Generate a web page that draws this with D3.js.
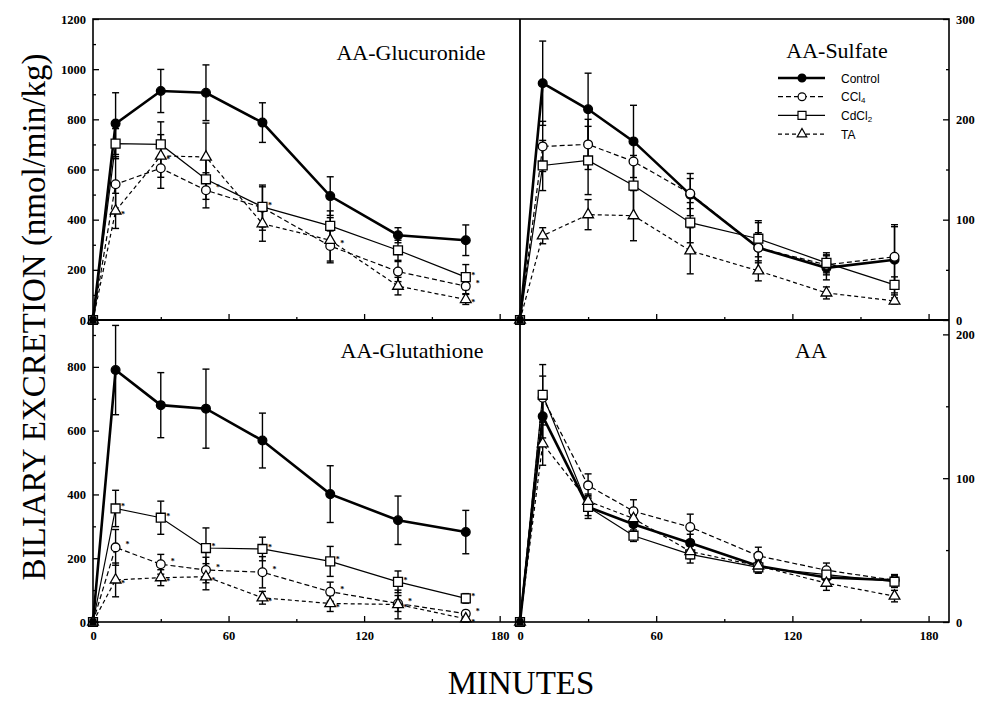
<!DOCTYPE html>
<html>
<head>
<meta charset="utf-8">
<script src="https://cdn.jsdelivr.net/npm/d3@7"></script>
<style>
  body { margin: 0; background: #fff; }
  svg { display: block; }
</style>
</head>
<body>
<div id="chart"></div>
<script>
//////////////////////////// data /////////////////////////////////////////

const times = [0, 10, 30, 50, 75, 105, 135, 165];
const seriesNames = ["Control", "CCl4", "CdCl2", "TA"];

// AA-Glucuronide (nmol/min/kg)
const glucControl = [0, 783, 913, 906, 787, 494, 338, 318];
const glucControlErr = [0, 123, 86, 111, 79, 77, 30, 61];
const glucCCl4 = [0, 541, 605, 517, 448, 295, 193, 135];
const glucCCl4Err = [0, 110, 80, 70, 90, 60, 40, 30];
const glucCdCl2 = [0, 703, 700, 561, 451, 375, 278, 171];
const glucCdCl2Err = [0, 60, 90, 80, 80, 60, 40, 50];
const glucTA = [0, 435, 654, 650, 384, 318, 135, 82];
const glucTAErr = [0, 70, 85, 135, 70, 90, 35, 20];
const glucCCl4Sig = [0, 0, 0, 1, 0, 1, 0, 1];
const glucCdCl2Sig = [0, 0, 0, 0, 1, 0, 0, 1];
const glucTASig = [0, 1, 1, 0, 0, 0, 0, 1];

// AA-Sulfate
const sulfControl = [0, 236, 210, 178, 125, 72, 52, 60];
const sulfControlErr = [0, 42, 36, 36, 21, 25, 12, 35];
const sulfCCl4 = [0, 173, 175, 158, 126, 72, 55, 63];
const sulfCCl4Err = [0, 25, 25, 22, 15, 15, 10, 30];
const sulfCdCl2 = [0, 154, 159, 134, 97, 81, 57, 35];
const sulfCdCl2Err = [0, 25, 34, 30, 20, 18, 10, 8];
const sulfTA = [0, 84, 105, 104, 69, 49, 27, 19];
const sulfTAErr = [0, 8, 15, 25, 23, 10, 6, 3];

// AA-Glutathione
const gshControl = [0, 790, 680, 669, 569, 401, 319, 282];
const gshControlErr = [0, 140, 102, 124, 86, 89, 76, 68];
const gshCCl4 = [0, 234, 181, 163, 156, 95, 58, 26];
const gshCCl4Err = [0, 56, 31, 40, 49, 30, 25, 10];
const gshCdCl2 = [0, 356, 327, 232, 229, 190, 126, 74];
const gshCdCl2Err = [0, 57, 52, 63, 37, 47, 34, 15];
const gshTA = [0, 132, 139, 142, 76, 58, 55, 10];
const gshTAErr = [0, 53, 25, 41, 20, 25, 45, 10];
const gshSig = [0, 1, 1, 1, 1, 1, 1, 1];

// AA
const aaControl = [0, 143, 80, 68, 55, 39, 31, 29];
const aaControlErr = [0, 15, 8, 6, 6, 5, 4, 3];
const aaCCl4 = [0, 156, 95, 77, 66, 46, 36, 29];
const aaCCl4Err = [0, 15, 8, 8, 9, 6, 5, 4];
const aaCdCl2 = [0, 158, 80, 60, 47, 38, 33, 28];
const aaCdCl2Err = [0, 21, 6, 4, 6, 4, 4, 4];
const aaTA = [0, 124, 84, 72, 49, 39, 27, 18];
const aaTAErr = [0, 15, 5, 5, 5, 4, 5, 4];

const none = [0, 0, 0, 0, 0, 0, 0, 0];

const xTicks = [0, 60, 120, 180];
const xMinorTicks = [30, 90, 150];

//////////////////////////// set up svg ///////////////////////////////////

const width = 983;
const height = 702;
const serif = "'Liberation Serif', 'Times New Roman', serif";

const svg = d3.select("#chart")
  .append("svg")
  .attr("width", width)
  .attr("height", height);

// line / marker style per series (starDx/starDy: where the asterisk sits)
const styles = {
  Control: { symbol: d3.symbolCircle, size: 60, fill: "#000", sw: 2.6, dash: null, starDx: 5.5, starDy: 2 },
  CCl4: { symbol: d3.symbolCircle, size: 60, fill: "#fff", sw: 1.2, dash: "5,3", starDx: 10, starDy: 0 },
  CdCl2: { symbol: d3.symbolSquare, size: 80, fill: "#fff", sw: 1.2, dash: null, starDx: 5.5, starDy: 1 },
  TA: { symbol: d3.symbolTriangle, size: 50, fill: "#fff", sw: 1.2, dash: "4,3", starDx: 5.5, starDy: 6 }
};

const panels = [
  {
    title: "AA-Glucuronide", tx: 411, ty: 60,
    xr: [93, 520], yr: [19, 320], yMax: 1200, side: "left",
    yTicks: [0, 200, 400, 600, 800, 1000, 1200],
    yMinor: [100, 300, 500, 700, 900, 1100],
    xLabels: false,
    values: [glucControl, glucCCl4, glucCdCl2, glucTA],
    errs: [glucControlErr, glucCCl4Err, glucCdCl2Err, glucTAErr],
    sig: [none, glucCCl4Sig, glucCdCl2Sig, glucTASig]
  },
  {
    title: "AA-Sulfate", tx: 837, ty: 58,
    xr: [520, 949], yr: [19, 320], yMax: 300, side: "right",
    yTicks: [0, 100, 200, 300],
    yMinor: [50, 150, 250],
    xLabels: false,
    values: [sulfControl, sulfCCl4, sulfCdCl2, sulfTA],
    errs: [sulfControlErr, sulfCCl4Err, sulfCdCl2Err, sulfTAErr],
    sig: [none, none, none, none],
    legend: true
  },
  {
    title: "AA-Glutathione", tx: 412, ty: 358,
    xr: [93, 520], yr: [320, 622], yMax: 947, side: "left",
    yTicks: [0, 200, 400, 600, 800],
    yMinor: [100, 300, 500, 700, 900],
    xLabels: true,
    values: [gshControl, gshCCl4, gshCdCl2, gshTA],
    errs: [gshControlErr, gshCCl4Err, gshCdCl2Err, gshTAErr],
    sig: [none, gshSig, gshSig, gshSig]
  },
  {
    title: "AA", tx: 811, ty: 358,
    xr: [520, 949], yr: [320, 622], yMax: 210, side: "right",
    yTicks: [0, 100, 200],
    yMinor: [50, 150],
    xLabels: true,
    values: [aaControl, aaCCl4, aaCdCl2, aaTA],
    errs: [aaControlErr, aaCCl4Err, aaCdCl2Err, aaTAErr],
    sig: [none, none, none, none]
  }
];

//////////////////////////// panels ///////////////////////////////////////

panels.forEach((p) => {
  const x = d3.scaleLinear().domain([0, 189]).range(p.xr);
  const y = d3.scaleLinear().domain([0, p.yMax]).range([p.yr[1], p.yr[0]]);
  const g = svg.append("g");

  // y axis (ticks point inward)
  const yAxis = p.side === "left" ? d3.axisLeft : d3.axisRight;
  const yPos = p.side === "left" ? p.xr[0] : p.xr[1];
  g.append("g")
    .attr("transform", "translate(" + yPos + ",0)")
    .call(yAxis(y).tickValues(p.yTicks).tickSize(-6).tickPadding(7).tickFormat(d3.format("d")))
    .call((a) => a.select(".domain").remove());
  g.append("g")
    .attr("transform", "translate(" + yPos + ",0)")
    .call(yAxis(y).tickValues(p.yMinor).tickSize(-3).tickFormat(""))
    .call((a) => a.select(".domain").remove());

  // x axis
  g.append("g")
    .attr("transform", "translate(0," + p.yr[1] + ")")
    .call(d3.axisBottom(x).tickValues(xTicks).tickSize(-6).tickPadding(9)
      .tickFormat(p.xLabels ? d3.format("d") : ""))
    .call((a) => a.select(".domain").remove());
  g.append("g")
    .attr("transform", "translate(0," + p.yr[1] + ")")
    .call(d3.axisBottom(x).tickValues(xMinorTicks).tickSize(-3).tickFormat(""))
    .call((a) => a.select(".domain").remove());

  g.selectAll(".tick line").attr("stroke", "#000").attr("stroke-width", 1.3);
  g.selectAll(".tick text")
    .attr("font-family", serif)
    .attr("font-weight", "bold")
    .attr("font-size", 12.5)
    .attr("fill", "#000");

  // title
  g.append("text")
    .attr("x", p.tx)
    .attr("y", p.ty)
    .attr("text-anchor", "middle")
    .attr("font-family", serif)
    .attr("font-size", 22)
    .text(p.title);

  const line = d3.line()
    .x((d, i) => x(times[i]))
    .y((d) => y(d));

  // lines
  seriesNames.forEach((name, s) => {
    const st = styles[name];
    g.append("path")
      .datum(p.values[s])
      .attr("d", line)
      .attr("fill", "none")
      .attr("stroke", "#000")
      .attr("stroke-width", st.sw)
      .attr("stroke-dasharray", st.dash);
  });

  // error bars
  seriesNames.forEach((name, s) => {
    const eg = g.append("g").attr("stroke", "#000").attr("stroke-width", 1.4);
    p.values[s].forEach((v, i) => {
      const e = p.errs[s][i];
      if (!e) return;
      const cx = x(times[i]);
      const top = y(v + e);
      const bot = y(Math.max(0, v - e));
      eg.append("line").attr("x1", cx).attr("x2", cx).attr("y1", top).attr("y2", bot);
      eg.append("line").attr("x1", cx - 3.5).attr("x2", cx + 3.5).attr("y1", top).attr("y2", top);
      eg.append("line").attr("x1", cx - 3.5).attr("x2", cx + 3.5).attr("y1", bot).attr("y2", bot);
    });
  });

  // markers
  seriesNames.forEach((name, s) => {
    const st = styles[name];
    g.append("g")
      .selectAll("path")
      .data(p.values[s])
      .join("path")
      .attr("transform", (d, i) => "translate(" + x(times[i]) + "," + y(d) + ")")
      .attr("d", d3.symbol().type(st.symbol).size(st.size))
      .attr("fill", st.fill)
      .attr("stroke", "#000")
      .attr("stroke-width", 1.3);

    // significance asterisks
    const starred = p.values[s]
      .map((v, i) => ({ v: v, t: times[i], sig: p.sig[s][i] }))
      .filter((d) => d.sig);
    g.append("g")
      .selectAll("text")
      .data(starred)
      .join("text")
      .attr("x", (d) => x(d.t) + st.starDx)
      .attr("y", (d) => y(d.v) + st.starDy)
      .attr("font-family", serif)
      .attr("font-weight", "bold")
      .attr("font-size", 8)
      .text("*");
  });

  // origin marker
  g.append("rect")
    .attr("x", x(0) - 3.5).attr("y", y(0) - 3.5)
    .attr("width", 7).attr("height", 7)
    .attr("fill", "#000");

  // legend
  if (p.legend) {
    const lg = g.append("g").attr("transform", "translate(778,78)");
    seriesNames.forEach((name, s) => {
      const st = styles[name];
      const row = lg.append("g").attr("transform", "translate(0," + s * 18.7 + ")");
      row.append("line")
        .attr("x1", 0).attr("x2", 47)
        .attr("stroke", "#000")
        .attr("stroke-width", st.sw)
        .attr("stroke-dasharray", st.dash);
      row.append("path")
        .attr("transform", "translate(24,0)")
        .attr("d", d3.symbol().type(st.symbol).size(st.size * 0.8))
        .attr("fill", st.fill)
        .attr("stroke", "#000")
        .attr("stroke-width", 1.2);
      const t = row.append("text")
        .attr("x", 63).attr("y", 4.5)
        .attr("font-family", "'Liberation Sans', Arial, sans-serif")
        .attr("font-size", 12);
      const m = name.match(/^(\D+)(\d?)$/);
      t.append("tspan").text(m[1]);
      if (m[2]) t.append("tspan").attr("font-size", 8).attr("dy", 2).text(m[2]);
    });
  }
});

//////////////////////////// frame and titles /////////////////////////////

svg.append("rect")
  .attr("x", 93).attr("y", 19)
  .attr("width", 949 - 93).attr("height", 622 - 19)
  .attr("fill", "none")
  .attr("stroke", "#000")
  .attr("stroke-width", 1.6);
svg.append("line")
  .attr("x1", 520).attr("x2", 520).attr("y1", 19).attr("y2", 622)
  .attr("stroke", "#000").attr("stroke-width", 1.8);
svg.append("line")
  .attr("x1", 93).attr("x2", 949).attr("y1", 320).attr("y2", 320)
  .attr("stroke", "#000").attr("stroke-width", 1.8);

svg.append("text")
  .attr("transform", "translate(45,317) rotate(-90)")
  .attr("text-anchor", "middle")
  .attr("font-family", serif)
  .attr("font-size", 33)
  .text("BILIARY EXCRETION (nmol/min/kg)");

svg.append("text")
  .attr("x", 521)
  .attr("y", 694)
  .attr("text-anchor", "middle")
  .attr("font-family", serif)
  .attr("font-size", 33)
  .text("MINUTES");
</script>
</body>
</html>
